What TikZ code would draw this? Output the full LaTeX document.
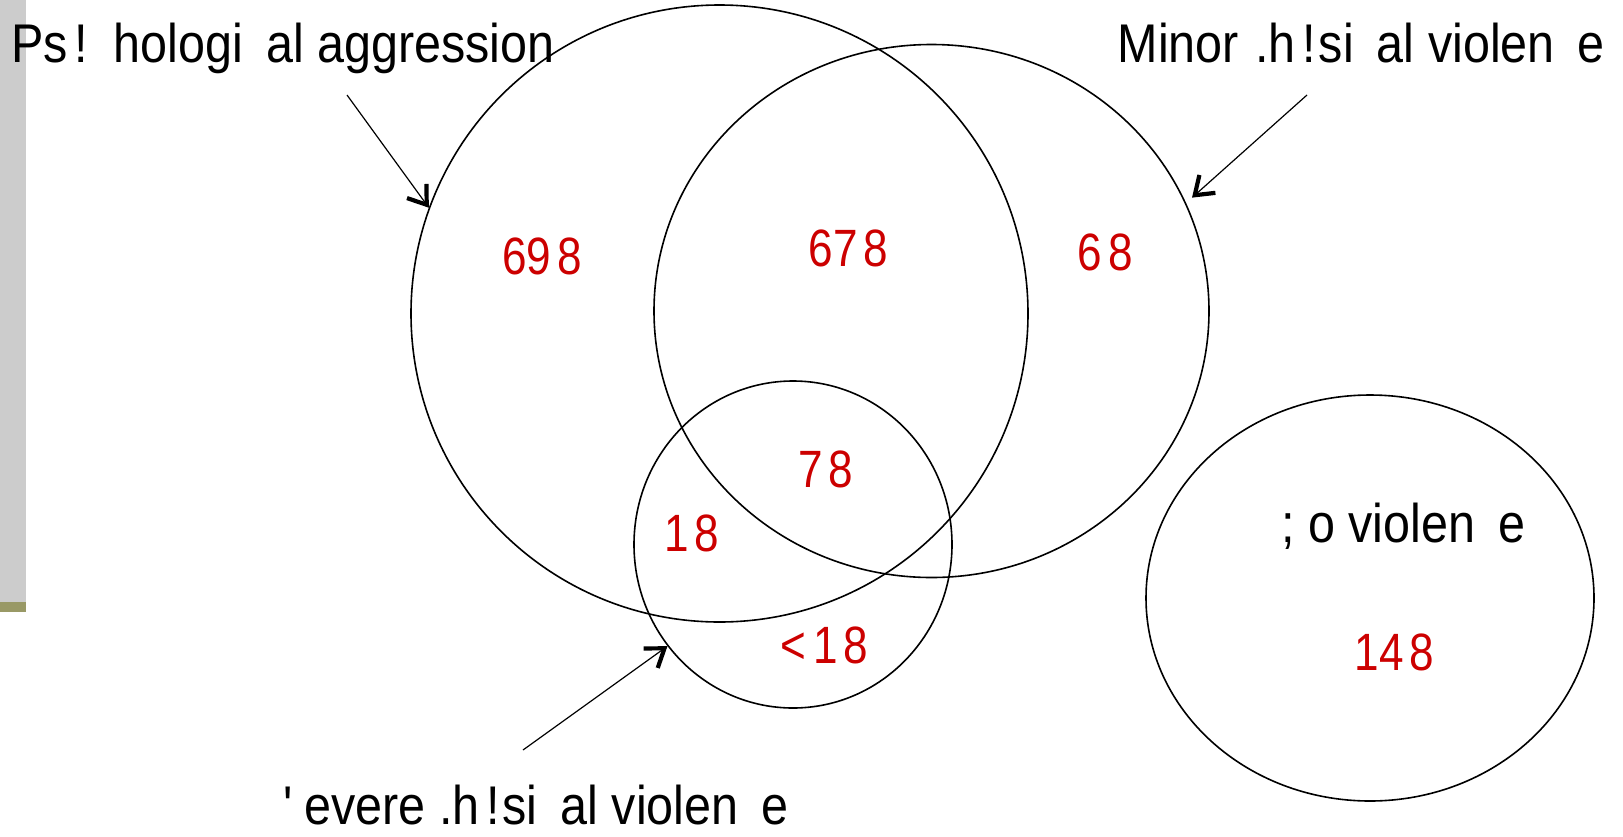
\documentclass[tikz,border=0pt]{standalone}
\usepackage{fontspec}
\usetikzlibrary{shapes.geometric,arrows.meta}
\newfontfamily\labfont[FakeStretch=0.89]{Liberation Sans}
\newfontfamily\numfont[FakeStretch=0.84]{Liberation Sans}
\definecolor{barGrey}{HTML}{CCCCCC}
\definecolor{barOlive}{HTML}{999966}
\definecolor{numRed}{HTML}{CC0000}
\newcommand\xbang{\hspace{7pt}!\hspace{2.5pt}}
\newcommand\xgap{\hspace{23pt}}
\begin{document}
\begin{tikzpicture}[x=1pt,y=-1pt,
  ring/.style={draw=black, line width=1.6pt, ellipse, inner sep=0pt},
  lab/.style={font=\labfont\fontsize{54.5}{60}\selectfont, text=black, inner sep=0pt},
  num/.style={font=\numfont\fontsize{52.5}{58}\selectfont, text=numRed, inner sep=0pt, anchor=base},
  pointer/.style={line width=1.2pt, -{Straight Barb[length=17pt,width=24pt,line width=4.2pt]}}]
\useasboundingbox (0,0) rectangle (1623,836);
% side bar
\fill[barGrey] (0,0) rectangle (26,602);
\fill[barOlive] (0,602) rectangle (26,612);
% circles
\node[ring, minimum width=617pt, minimum height=617pt] (psy) at (719.5,313.5) {};
\node[ring, minimum width=555pt, minimum height=533pt] (minor) at (931.5,311) {};
\node[ring, minimum width=318pt, minimum height=327pt] (sev) at (793,544.5) {};
\node[ring, minimum width=448pt, minimum height=406pt] (none) at (1370,598) {};
% labels
\node[lab, anchor=base west] (psylab) at (11,62) {Ps\xbang\xgap hologi\xgap al aggression};
\node[lab, anchor=base east] (minlab) at (1605,62) {Minor \hspace{3pt}.h\xbang si\xgap al violen\xgap e};
\node[lab, anchor=base west] (sevlab) at (283,824) {'\hspace{12pt}evere .h\xbang si\xgap al violen\xgap e};
\node[lab, anchor=base west] (nonelab) at (1281,542) {; o violen\xgap e};
% numbers
\node[num] (n1) at (542,274) {69\kern6pt 8};
\node[num] (n2) at (848.5,266) {67\kern6pt 8};
\node[num] (n3) at (1105,270) {6\kern6pt 8};
\node[num] (n4) at (826,487) {7\kern5pt 8};
\node[num] (n5) at (692,551) {1\kern6pt 8};
\node[num] (n6) at (824,663) {<\kern8pt 1\kern5pt 8};
\node[num] (n7) at (1394.5,670) {14\kern6pt 8};
% arrows
\coordinate (psyt) at (347,95);
\coordinate (mint) at (1307,95);
\coordinate (sevt) at (523,750);
\draw[pointer] (psyt) -- (psy.160);
\draw[pointer, shorten >=8pt] (mint) -- (minor.23);
\draw[pointer] (sevt) -- (sev.219);
\end{tikzpicture}
\end{document}
